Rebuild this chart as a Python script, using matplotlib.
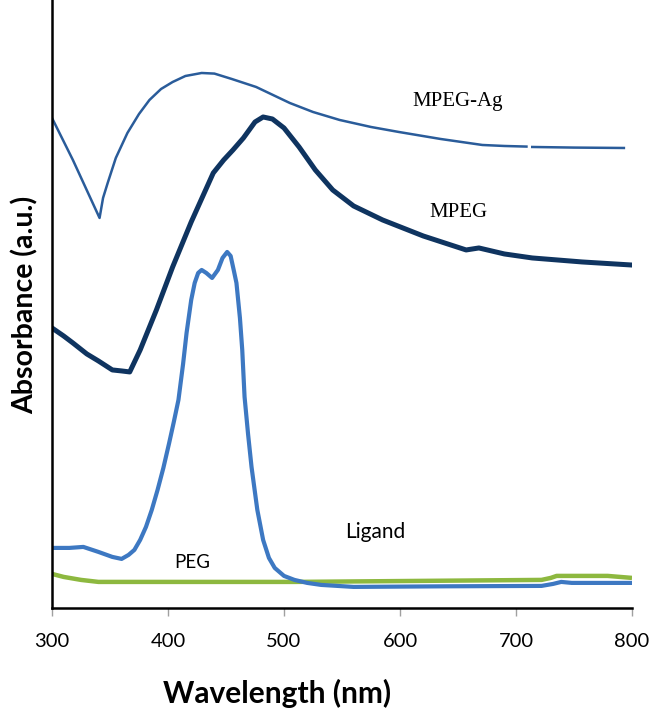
import numpy as np
import matplotlib.pyplot as plt

# UV-vis spectra (absorbance in arbitrary units)
mpeg_ag_nm = [300, 318, 341, 344, 348, 355, 365, 375, 384, 394, 404, 415, 429, 440, 455, 476, 505,
              525, 548, 575, 599, 635, 671, 690, 709, 711, 714, 750, 793]
mpeg_ag_abs = [2.45, 2.24, 1.95, 2.05, 2.125, 2.25, 2.375, 2.47, 2.54, 2.595, 2.63, 2.66, 2.675, 2.672,
               2.645, 2.605, 2.525, 2.48, 2.44, 2.405, 2.38, 2.345, 2.315, 2.31, 2.307, np.nan, 2.305,
               2.302, 2.30]

mpeg_nm = [300, 310, 318, 330, 340, 352, 360, 367, 376, 390, 404, 420, 439, 448, 456, 465, 475, 482,
           490, 500, 513, 527, 542, 560, 585, 620, 657, 668, 690, 714, 757, 799]
mpeg_abs = [1.40, 1.36, 1.325, 1.27, 1.235, 1.19, 1.185, 1.18, 1.29, 1.49, 1.705, 1.93, 2.175, 2.24,
            2.29, 2.35, 2.43, 2.455, 2.445, 2.40, 2.305, 2.19, 2.09, 2.01, 1.94, 1.86, 1.79, 1.80, 1.77,
            1.75, 1.73, 1.715]

ligand_nm = [300, 315, 327, 340, 352, 360, 366, 371, 376, 381, 386, 391, 396, 401, 405, 409, 413, 416,
             420, 423, 426, 429, 433, 438, 443, 447, 451, 454, 457, 459, 462, 464, 466, 469, 472, 477,
             482, 487, 492, 500, 509, 520, 532, 560, 640, 722, 732, 739, 748, 800]
ligand_abs = [0.30, 0.30, 0.305, 0.28, 0.255, 0.245, 0.265, 0.29, 0.34, 0.405, 0.49, 0.59, 0.70, 0.825,
              0.93, 1.04, 1.22, 1.375, 1.54, 1.625, 1.675, 1.69, 1.675, 1.65, 1.69, 1.75, 1.78, 1.76,
              1.68, 1.625, 1.45, 1.29, 1.055, 0.87, 0.705, 0.49, 0.34, 0.25, 0.20, 0.16, 0.14, 0.125,
              0.115, 0.105, 0.108, 0.11, 0.12, 0.13, 0.125, 0.125]

peg_nm = [300, 310, 325, 340, 509, 722, 730, 735, 779, 800]
peg_abs = [0.17, 0.155, 0.14, 0.13, 0.13, 0.14, 0.15, 0.16, 0.16, 0.15]

fig = plt.figure(figsize=(6.55, 7.11), dpi=100)
ax = fig.add_axes([0.0794, 0.145, 0.8855, 0.855])

ax.plot(peg_nm, peg_abs, color='#8db83f', lw=3.2, solid_capstyle='butt')
ax.plot(ligand_nm, ligand_abs, color='#3d78c2', lw=3.0, solid_joinstyle='round')
ax.plot(mpeg_nm, mpeg_abs, color='#0f3460', lw=3.6, solid_joinstyle='round')
ax.plot(mpeg_ag_nm, mpeg_ag_abs, color='#2a5c9a', lw=1.8)

serif = ['Liberation Serif', 'DejaVu Serif']
sans = ['Lato', 'DejaVu Sans']
ax.text(650, 2.53, 'MPEG-Ag', family=serif, fontsize=15, ha='center', va='center')
ax.text(650, 1.975, 'MPEG', family=serif, fontsize=15, ha='center', va='center')
ax.text(579, 0.38, 'Ligand', family=sans, fontsize=15, ha='center', va='center')
ax.text(421, 0.225, 'PEG', family=sans, fontsize=13.5, ha='center', va='center')

ax.set_xlim(300, 800)
ax.set_ylim(0, 3.04)
ax.set_xticks([300, 400, 500, 600, 700, 800])
ax.set_yticks([])
ax.tick_params(axis='x', direction='out', length=6, width=1, color='#a0a0a0',
               pad=12, labelsize=14.5)
for lbl in ax.get_xticklabels():
    lbl.set_family(sans)

ax.spines['top'].set_visible(False)
ax.spines['right'].set_visible(False)
ax.spines['left'].set_linewidth(1.8)
ax.spines['bottom'].set_linewidth(1.8)

fig.text(277 / 655, 1 - 693 / 711, 'Wavelength (nm)', family=sans, fontsize=21.5,
         fontweight='bold', ha='center', va='center')
fig.text(25 / 655, 1 - 305 / 711, 'Absorbance (a.u.)', family=sans, fontsize=20.5,
         fontweight='bold', ha='center', va='center', rotation=90)

fig.savefig('out.png', dpi=100)
